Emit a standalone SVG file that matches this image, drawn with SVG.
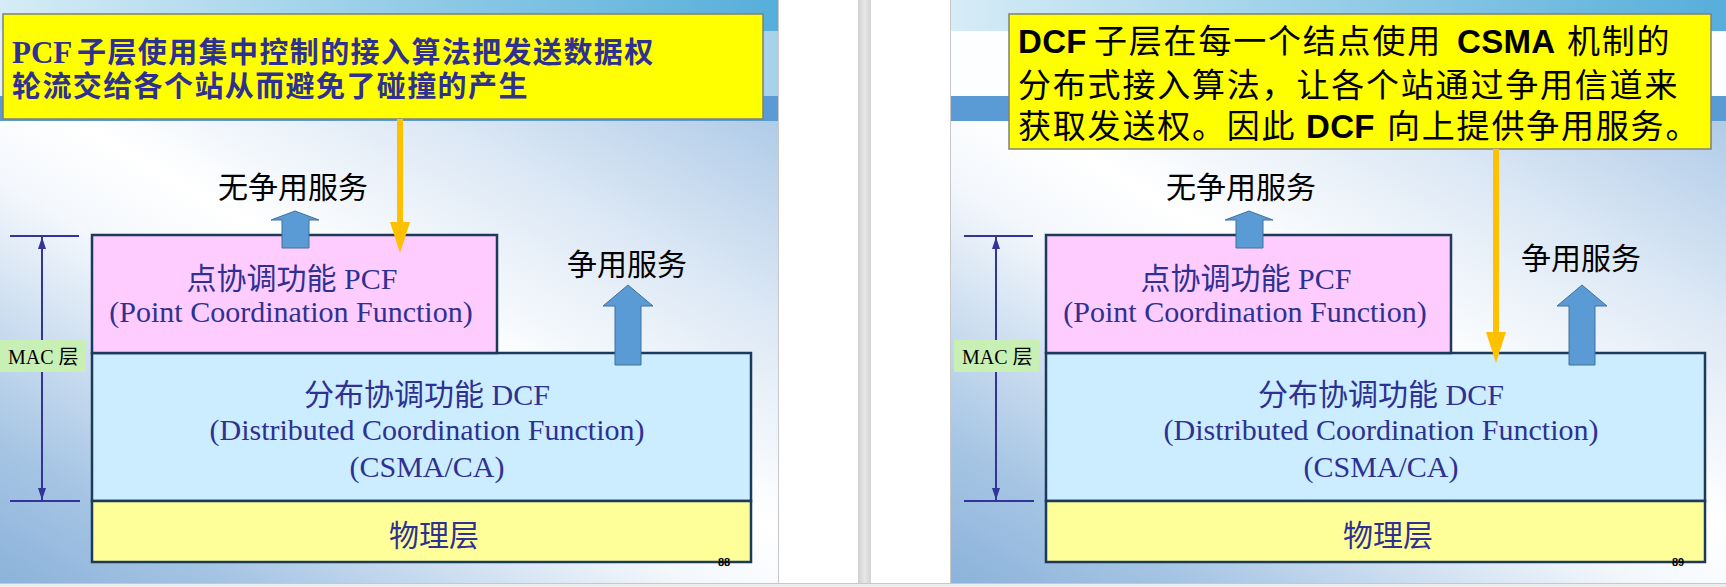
<svg xmlns="http://www.w3.org/2000/svg" width="1726" height="587" viewBox="0 0 1726 587">
  <defs>
    <style>
      .callout { fill: #FFFF00; stroke: #7F7F7F; stroke-width: 1.5; }
      .pcf { fill: #FFCCFF; stroke: #1B3A5C; stroke-width: 2.5; }
      .dcf { fill: #CCECFF; stroke: #1B3A5C; stroke-width: 2.5; }
      .phy { fill: #FFFF99; stroke: #1B3A5C; stroke-width: 2.5; }
      .mac-tag { fill: #C8F0B4; }
      .box-text { font-family: "Liberation Serif", "Noto Sans CJK SC", serif; font-size: 30px; fill: #2E3192; text-anchor: middle; }
      .service { font-family: "Noto Sans CJK SC", sans-serif; font-size: 30px; fill: #000000; text-anchor: middle; }
      .mac-text { font-family: "Liberation Serif", "Noto Sans CJK SC", serif; font-size: 20px; fill: #000000; }
      .note-pcf { font-family: "Noto Sans CJK SC", sans-serif; font-size: 29px; letter-spacing: 1.4px; font-weight: bold; fill: #2E3192; }
      .note-pcf .latin { font-family: "Liberation Serif", serif; font-size: 31px; letter-spacing: 0; }
      .note-dcf { font-family: "Noto Sans CJK SC", sans-serif; font-size: 33px; letter-spacing: 1.8px; fill: #000000; }
      .note-dcf .latin { font-family: "Liberation Sans", sans-serif; font-size: 33px; letter-spacing: 0.3px; font-weight: bold; }
      .page-no { font-family: "Liberation Sans", sans-serif; font-size: 11px; font-weight: bold; fill: #000000; }
      .bracket { stroke: #333399; stroke-width: 2; fill: none; }
      .block-arrow { fill: #5B9BD5; stroke: #41719C; stroke-width: 1; }
      .pointer { stroke: #FFC000; stroke-width: 6; fill: none; }
    </style>
    <linearGradient id="bodyL" gradientUnits="userSpaceOnUse" x1="163" y1="745" x2="615" y2="-33">
      <stop offset="0" stop-color="#7FAAD6"/>
      <stop offset="0.2" stop-color="#A6C5E4"/>
      <stop offset="0.45" stop-color="#F3F7FC"/>
      <stop offset="0.55" stop-color="#FFFFFF"/>
      <stop offset="0.75" stop-color="#DCE8F5"/>
      <stop offset="1" stop-color="#A3C3E4"/>
    </linearGradient>
    <linearGradient id="bodyR" gradientUnits="userSpaceOnUse" x1="1114" y1="745" x2="1566" y2="-33">
      <stop offset="0" stop-color="#7FAAD6"/>
      <stop offset="0.2" stop-color="#A6C5E4"/>
      <stop offset="0.45" stop-color="#F3F7FC"/>
      <stop offset="0.55" stop-color="#FFFFFF"/>
      <stop offset="0.75" stop-color="#DCE8F5"/>
      <stop offset="1" stop-color="#A3C3E4"/>
    </linearGradient>
    <linearGradient id="topStrip" x1="0" y1="0" x2="1" y2="0">
      <stop offset="0" stop-color="#D6ECF6"/>
      <stop offset="1" stop-color="#56AEDA"/>
    </linearGradient>
    <linearGradient id="midBand" x1="0" y1="0" x2="1" y2="0">
      <stop offset="0" stop-color="#E4F2F8"/>
      <stop offset="1" stop-color="#A6D2EA"/>
    </linearGradient>
    <linearGradient id="scroll" x1="0" y1="0" x2="1" y2="0">
      <stop offset="0" stop-color="#CFCFCF"/>
      <stop offset="0.5" stop-color="#E8E8E8"/>
      <stop offset="1" stop-color="#D2D2D2"/>
    </linearGradient>
    <marker id="barb" markerUnits="userSpaceOnUse" markerWidth="12" markerHeight="8" refX="12" refY="4" orient="auto-start-reverse">
      <path d="M0,0 L12,4 L0,8 z" fill="#333399"/>
    </marker>
    <marker id="pointerHead" markerUnits="userSpaceOnUse" markerWidth="31" markerHeight="20" refX="1" refY="10" orient="auto">
      <path d="M0,0 L31,10 L0,20 z" fill="#FFC000"/>
    </marker>
  </defs>

  <!-- page backdrop -->
  <g id="backdrop">
    <rect x="0" y="0" width="1726" height="587" fill="#FFFFFF"/>
    <!-- left slide -->
    <rect x="0" y="0" width="778" height="583" fill="url(#bodyL)"/>
    <rect x="0" y="0" width="778" height="31" fill="url(#topStrip)"/>
    <rect x="0" y="31" width="778" height="65" fill="url(#midBand)"/>
    <rect x="0" y="96" width="778" height="25" fill="#5B9BD5"/>
    <!-- right slide -->
    <rect x="951" y="0" width="775" height="583" fill="url(#bodyR)"/>
    <rect x="951" y="0" width="775" height="31" fill="url(#topStrip)"/>
    <rect x="951" y="31" width="775" height="65" fill="#FDFEFF"/>
    <rect x="951" y="96" width="775" height="25" fill="#5B9BD5"/>
    <!-- frame edges and scroll bar -->
    <line x1="778.5" y1="0" x2="778.5" y2="583" stroke="#C8C8C8" stroke-width="1"/>
    <line x1="950.5" y1="0" x2="950.5" y2="583" stroke="#C8C8C8" stroke-width="1"/>
    <rect x="858" y="0" width="13" height="587" fill="url(#scroll)"/>
    <rect x="0" y="583" width="1726" height="4" fill="#EDEDED"/>
    <line x1="0" y1="583.5" x2="1726" y2="583.5" stroke="#C8C8C8" stroke-width="1"/>
  </g>

  <!-- ===== left slide: PCF ===== -->
  <g id="dcf-layer-left">
    <rect class="dcf" x="92" y="353" width="659" height="148"/>
    <text class="box-text" x="427" y="405">分布协调功能 DCF</text>
    <text class="box-text" x="427" y="440">(Distributed Coordination Function)</text>
    <text class="box-text" x="427" y="477">(CSMA/CA)</text>
  </g>
  <g id="pcf-layer-left">
    <rect class="pcf" x="92" y="235" width="405" height="118"/>
    <text class="box-text" x="292" y="289">点协调功能 PCF</text>
    <text class="box-text" x="291" y="322">(Point Coordination Function)</text>
  </g>
  <g id="phy-layer-left">
    <rect class="phy" x="92" y="501" width="659" height="61"/>
    <text class="box-text" x="434" y="546">物理层</text>
    <text class="page-no" x="718" y="566">88</text>
  </g>
  <g id="mac-span-left">
    <line class="bracket" x1="10" y1="236" x2="79" y2="236"/>
    <line class="bracket" x1="10" y1="501" x2="80" y2="501"/>
    <line class="bracket" x1="42" y1="237" x2="42" y2="500" marker-start="url(#barb)" marker-end="url(#barb)"/>
    <rect class="mac-tag" x="0" y="340" width="85" height="32"/>
    <text class="mac-text" x="8" y="364">MAC 层</text>
  </g>
  <g id="service-labels-left">
    <text class="service" x="293" y="198">无争用服务</text>
    <text class="service" x="627" y="275">争用服务</text>
  </g>
  <g id="note-pcf">
    <rect class="callout" x="3" y="14" width="760" height="105"/>
    <text class="note-pcf" y="63"><tspan class="latin" x="12">PCF</tspan><tspan x="77">子层使用集中控制的接入算法把发送数据权</tspan></text>
    <text class="note-pcf" x="12" y="97">轮流交给各个站从而避免了碰撞的产生</text>
  </g>

  <!-- ===== right slide: DCF ===== -->
  <g id="dcf-layer-right">
    <rect class="dcf" x="1046" y="353" width="659" height="148"/>
    <text class="box-text" x="1381" y="405">分布协调功能 DCF</text>
    <text class="box-text" x="1381" y="440">(Distributed Coordination Function)</text>
    <text class="box-text" x="1381" y="477">(CSMA/CA)</text>
  </g>
  <g id="pcf-layer-right">
    <rect class="pcf" x="1046" y="235" width="405" height="118"/>
    <text class="box-text" x="1246" y="289">点协调功能 PCF</text>
    <text class="box-text" x="1245" y="322">(Point Coordination Function)</text>
  </g>
  <g id="phy-layer-right">
    <rect class="phy" x="1046" y="501" width="659" height="61"/>
    <text class="box-text" x="1388" y="546">物理层</text>
    <text class="page-no" x="1672" y="566">89</text>
  </g>
  <g id="mac-span-right">
    <line class="bracket" x1="964" y1="236" x2="1033" y2="236"/>
    <line class="bracket" x1="964" y1="501" x2="1034" y2="501"/>
    <line class="bracket" x1="996" y1="237" x2="996" y2="500" marker-start="url(#barb)" marker-end="url(#barb)"/>
    <rect class="mac-tag" x="954" y="340" width="85" height="32"/>
    <text class="mac-text" x="962" y="364">MAC 层</text>
  </g>
  <g id="service-labels-right">
    <text class="service" x="1241" y="198">无争用服务</text>
    <text class="service" x="1581" y="269">争用服务</text>
  </g>
  <g id="note-dcf">
    <rect class="callout" x="1009" y="14" width="702" height="135"/>
    <text class="note-dcf" y="53"><tspan class="latin" x="1018">DCF</tspan><tspan x="1094">子层在每一个结点使用</tspan><tspan class="latin" x="1457">CSMA</tspan><tspan x="1567">机制的</tspan></text>
    <text class="note-dcf" x="1018" y="97">分布式接入算法，让各个站通过争用信道来</text>
    <text class="note-dcf" y="138"><tspan x="1018">获取发送权。因此</tspan><tspan class="latin" x="1306">DCF</tspan><tspan x="1387">向上提供争用服务。</tspan></text>
  </g>

  <!-- connectors: service arrows and callout pointers -->
  <g id="connectors">
    <polygon class="block-arrow" points="295,211 319,220 309,220 309,248 282,248 282,220 271,220"/>
    <polygon class="block-arrow" points="628,285 653,306 641,306 641,365 615,365 615,306 603,306"/>
    <line class="pointer" x1="400" y1="119" x2="400" y2="223" marker-end="url(#pointerHead)"/>

    <polygon class="block-arrow" points="1249,211 1273,220 1263,220 1263,248 1236,248 1236,220 1225,220"/>
    <polygon class="block-arrow" points="1582,285 1607,306 1595,306 1595,365 1569,365 1569,306 1557,306"/>
    <line class="pointer" x1="1496" y1="149" x2="1496" y2="333" marker-end="url(#pointerHead)"/>
  </g>
</svg>
